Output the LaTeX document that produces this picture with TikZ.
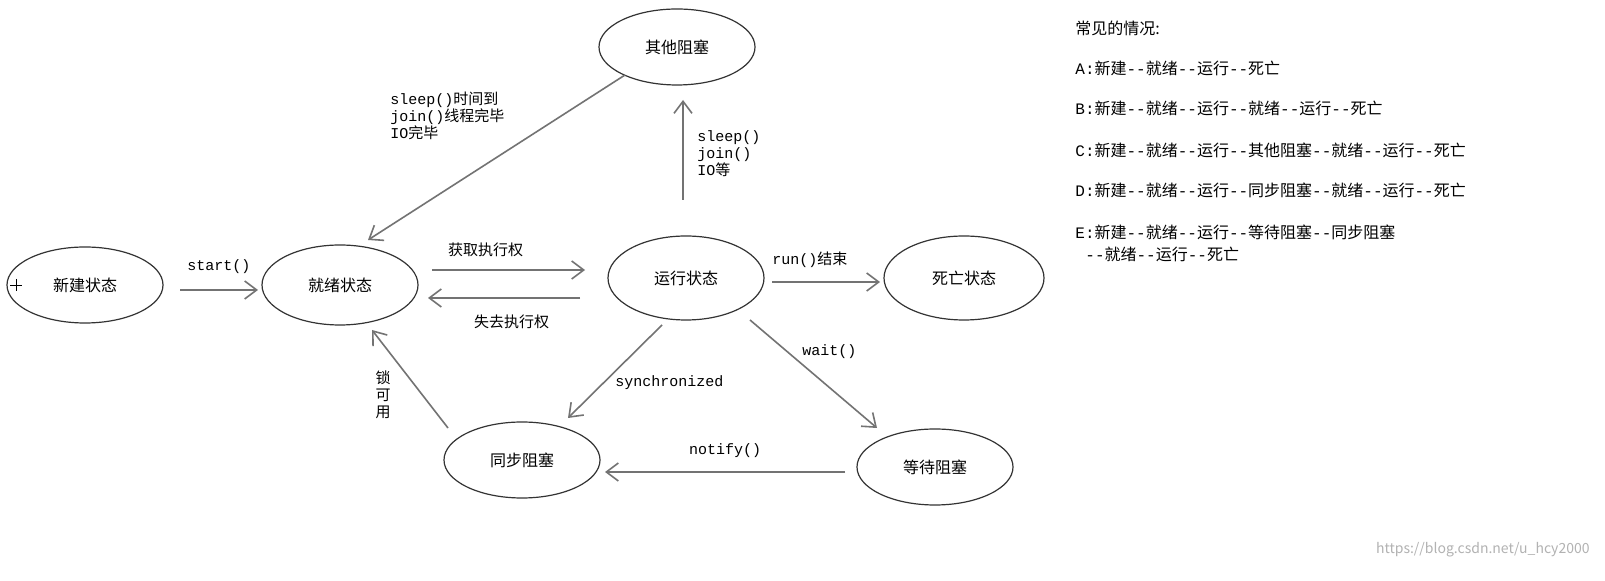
\documentclass[tikz,border=0pt]{standalone}
\usepackage{fontspec}
\setmainfont{Noto Sans CJK SC}
\newfontfamily\lat{Liberation Mono}
\usetikzlibrary{arrows.meta,shapes.geometric}
\begin{document}
\begin{tikzpicture}[x=0.5pt,y=-0.5pt,
  arr/.style={draw=black!55,line width=0.8pt,-{Straight Barb[length=6pt,width=9pt]}},
  lb/.style={font=\fontsize{7.5}{8.5}\selectfont,inner sep=0pt,align=left},
  txt/.style={font=\fontsize{8}{10}\selectfont,inner sep=0pt,anchor=west}]
\useasboundingbox (0,0) rectangle (1605,581);
\fill[white] (0,0) rectangle (1605,581);
\tikzset{ell/.style args={#1,#2}{shape=ellipse,draw=black!80,line width=0.6pt,minimum width=#1*0.5pt,minimum height=#2*0.5pt,inner sep=0pt,font=\fontsize{8}{10}\selectfont}}
\node[ell={156,76}] (new) at (85,285) {新建状态};
\node[ell={156,80}] (ready) at (340,285) {就绪状态};
\node[ell={156,76}] (other) at (677,47) {其他阻塞};
\node[ell={156,84}] (run) at (686,278) {运行状态};
\node[ell={160,84}] (dead) at (964,278) {死亡状态};
\node[ell={156,76}] (sync) at (522,460) {同步阻塞};
\node[ell={156,76}] (wait) at (935,467) {等待阻塞};
\draw (10,285) -- (22,285) (16,279) -- (16,291);
\coordinate (a1) at (180,290); \coordinate (a2) at (258,290);
\draw[arr] (a1) -- (a2) node[lb,midway,above=8pt]{\lat start()};
\coordinate (b1) at (432,270); \coordinate (b2) at (585,270);
\draw[arr] (b1) -- (b2) node[lb,pos=0.35,above=6pt]{获取执行权};
\coordinate (c1) at (580,298); \coordinate (c2) at (428,298);
\draw[arr] (c1) -- (c2) node[lb,pos=0.45,below=8pt]{失去执行权};
\coordinate (d1) at (772,282); \coordinate (d2) at (880,282);
\draw[arr] (d1) -- (d2) node[lb,pos=0.35,above=7pt]{{\lat run()}结束};
\coordinate (e1) at (683,200); \coordinate (e2) at (683,100);
\draw[arr] (e1) -- (e2);
\node[lb,anchor=north west] (lsleep) at (697,130) {\lat sleep()\\\lat join()\\{\lat IO}等};
\coordinate (f1) at (625,75); \coordinate (f2) at (368,240);
\draw[arr] (f1) -- (f2);
\node[lb,anchor=north west] (lsleep2) at (390,92) {{\lat sleep()}时间到\\{\lat join()}线程完毕\\{\lat IO}完毕};
\coordinate (g1) at (662,325); \coordinate (g2) at (568,418);
\draw[arr] (g1) -- (g2);
\node[lb,anchor=west] (lsync) at (615,383) {\lat synchronized};
\coordinate (h1) at (750,320); \coordinate (h2) at (877,428);
\draw[arr] (h1) -- (h2);
\node[lb,anchor=west] (lwait) at (802,352) {\lat wait()};
\coordinate (i1) at (845,472); \coordinate (i2) at (605,472);
\draw[arr] (i1) -- (i2) node[lb,pos=0.5,above=7pt]{\lat notify()};
\coordinate (j1) at (448,428); \coordinate (j2) at (372,330);
\draw[arr] (j1) -- (j2);
\node[lb,align=center] (lock) at (383,395) {锁\\可\\用};
\node[txt] (t0) at (1075,28) {常见的情况:};
\node[txt] (t1) at (1075,68) {{\lat A:}新建{\lat --}就绪{\lat --}运行{\lat --}死亡};
\node[txt] (t2) at (1075,108) {{\lat B:}新建{\lat --}就绪{\lat --}运行{\lat --}就绪{\lat --}运行{\lat --}死亡};
\node[txt] (t3) at (1075,150) {{\lat C:}新建{\lat --}就绪{\lat --}运行{\lat --}其他阻塞{\lat --}就绪{\lat --}运行{\lat --}死亡};
\node[txt] (t4) at (1075,190) {{\lat D:}新建{\lat --}就绪{\lat --}运行{\lat --}同步阻塞{\lat --}就绪{\lat --}运行{\lat --}死亡};
\node[txt] (t5) at (1075,232) {{\lat E:}新建{\lat --}就绪{\lat --}运行{\lat --}等待阻塞{\lat --}同步阻塞};
\node[txt] (t6) at (1085,254) {{\lat --}就绪{\lat --}运行{\lat --}死亡};
\node[font=\fontsize{7}{8}\selectfont,text=black!30,anchor=east,inner sep=0pt] (wm) at (1590,550) {https://blog.csdn.net/u\_hcy2000};
\end{tikzpicture}
\end{document}
